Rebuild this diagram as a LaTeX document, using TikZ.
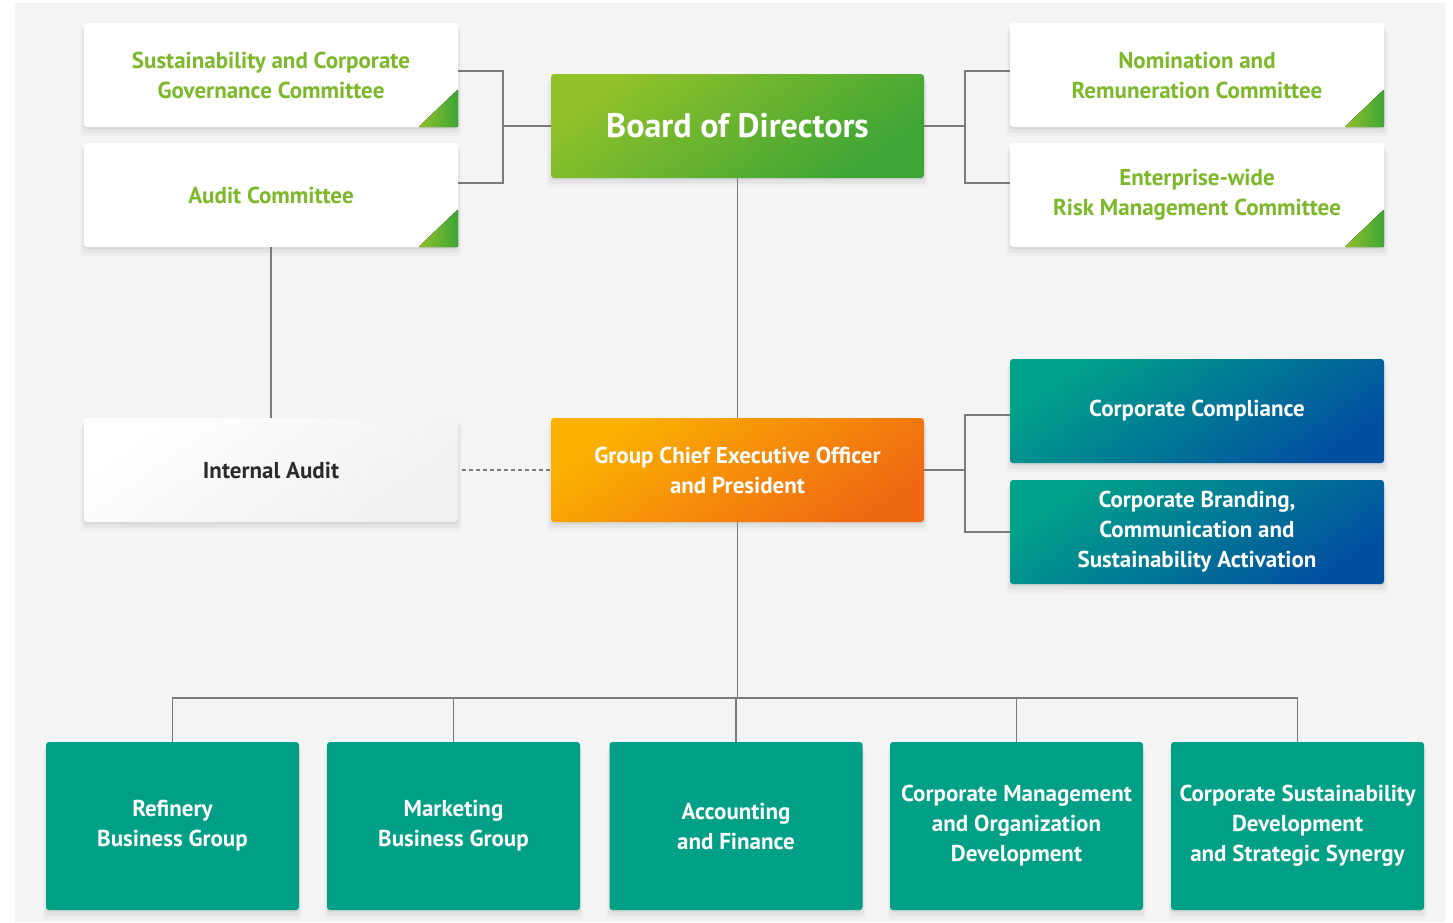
\documentclass[tikz,border=0pt]{standalone}
\usepackage{fontspec}
\setmainfont{PT Sans}
\newfontfamily\dinfont{PT Sans}
\usetikzlibrary{shadows,calc}
\definecolor{bgpanel}{HTML}{F4F4F4}
\definecolor{cmtext}{HTML}{7CB82A}
\definecolor{glight}{HTML}{92C12A}
\definecolor{gdark}{HTML}{3CA535}
\definecolor{olight}{HTML}{FBB200}
\definecolor{odark}{HTML}{F06912}
\definecolor{tlight}{HTML}{00A28A}
\definecolor{tdark}{HTML}{0150A0}
\definecolor{teal}{HTML}{00A087}
\definecolor{conn}{HTML}{7A7A7A}
\definecolor{iatext}{HTML}{2B2B2B}
\tikzset{
  boxbase/.style={rectangle, rounded corners=3pt, minimum width=374pt, minimum height=104pt,
    align=center, inner sep=0pt, font=\dinfont\bfseries\fontsize{23}{30}\selectfont,
    drop shadow={shadow xshift=0pt, shadow yshift=-2pt, opacity=0.05, fill=black},
    drop shadow={shadow xshift=0pt, shadow yshift=-5pt, shadow scale=1.01, opacity=0.04, fill=black},
    drop shadow={shadow xshift=0pt, shadow yshift=-8pt, shadow scale=1.02, opacity=0.025, fill=black}},
  cmbox/.style={boxbase, fill=white, text=cmtext},
  boardbox/.style={boxbase, minimum width=373pt, text=white, top color=glight, bottom color=gdark,
    shading angle=35, font=\dinfont\bfseries\fontsize{34}{40}\selectfont},
  ceobox/.style={boxbase, minimum width=373pt, text=white, top color=olight, bottom color=odark, shading angle=35},
  iabox/.style={boxbase, text=iatext, top color=white, bottom color=white!94!black, shading angle=35},
  bluebox/.style={boxbase, text=white, top color=tlight, bottom color=tdark, shading angle=35},
  unitbox/.style={boxbase, minimum width=253pt, minimum height=168pt, fill=teal, text=white},
  link/.style={draw=conn, line width=1.2pt},
  corner/.style={left color=glight, right color=gdark, rounded corners=2pt}
}
\newcommand{\cmcorner}[1]{\fill[corner] ($(#1.south east)+(-40,0)$) -- (#1.south east) -- ($(#1.south east)+(0,-38)$) -- cycle;}
\begin{document}
\begin{tikzpicture}[x=1pt,y=-1pt]
\useasboundingbox (0,0) rectangle (1453,922);
\fill[white] (0,0) rectangle (1453,922);
\fill[bgpanel] (15,3) rectangle (1445,922);

% nodes
\node[cmbox] (scg) at (271,75) {Sustainability and Corporate\\Governance Committee};
\node[cmbox] (audc) at (271,195) {Audit Committee};
\node[boardbox] (board) at (737.5,126) {Board of Directors};
\node[cmbox] (nom) at (1197,75) {Nomination and\\Remuneration Committee};
\node[cmbox] (erm) at (1197,195) {Enterprise-wide\\Risk Management Committee};
\node[iabox] (ia) at (271,470) {Internal Audit};
\node[ceobox] (ceo) at (737.5,470) {Group Chief Executive Officer\\and President};
\node[bluebox] (cc) at (1197,411) {Corporate Compliance};
\node[bluebox] (cb) at (1197,532) {Corporate Branding,\\Communication and\\Sustainability Activation};
\node[unitbox] (b1) at (172.5,826) {Refinery\\Business Group};
\node[unitbox] (b2) at (453.5,826) {Marketing\\Business Group};
\node[unitbox] (b3) at (736,826) {Accounting\\and Finance};
\node[unitbox] (b4) at (1016.5,826) {Corporate Management\\and Organization\\Development};
\node[unitbox] (b5) at (1297.5,826) {Corporate Sustainability\\Development\\and Strategic Synergy};

\cmcorner{scg}
\cmcorner{audc}
\cmcorner{nom}
\cmcorner{erm}

% connectors
\coordinate (lj) at (503,126);
\coordinate (rj) at (965,126);
\coordinate (rj2) at (965,470);
\coordinate (bus) at (737.5,698);
\draw[link] ($(scg.east)+(0,-4)$) -| (lj) |- ($(audc.east)+(0,-12)$);
\draw[link] (lj) -- (board.west);
\draw[link] ($(nom.west)+(0,-4)$) -| (rj) |- ($(erm.west)+(0,-12)$);
\draw[link] (board.east) -- (rj);
\draw[link] (board.south) -- (ceo.north);
\draw[link] (audc.south) -- (ia.north);
\draw[link, dashed, dash pattern=on 4pt off 3pt, shorten <=4pt] (ia.east) -- (ceo.west);
\draw[link] ($(cc.west)+(0,4)$) -| (rj2) |- (cb.west);
\draw[link] (ceo.east) -- (rj2);
\draw[link] (ceo.south) -- (bus);
\foreach \b in {b1,b2,b3,b4,b5} \draw[link] (bus) -| (\b.north);
\end{tikzpicture}
\end{document}
